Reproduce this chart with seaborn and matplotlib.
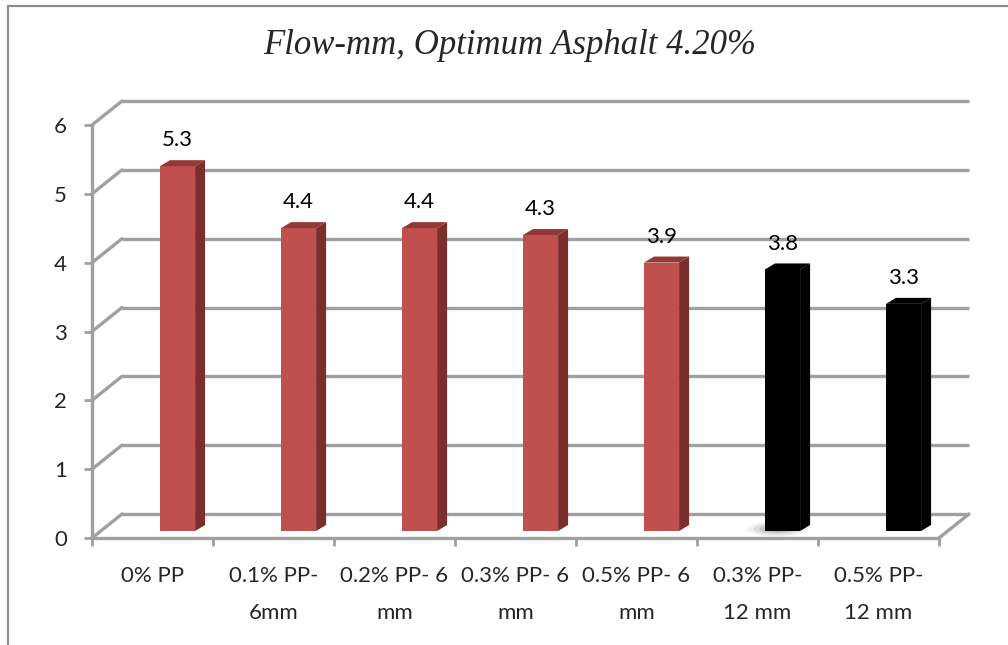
import matplotlib
matplotlib.use("Agg")
import matplotlib.pyplot as plt
import seaborn as sns
import numpy as np
from matplotlib.patches import Polygon, Ellipse
from matplotlib.lines import Line2D

# ---- data ----
categories = ["0% PP", "0.1% PP-\n6mm", "0.2% PP- 6\nmm", "0.3% PP- 6\nmm",
              "0.5% PP- 6\nmm", "0.3% PP-\n12 mm", "0.5% PP-\n12 mm"]
flow_mm = [5.3, 4.4, 4.4, 4.3, 3.9, 3.8, 3.3]
face_colors = ["#C0504D"] * 5 + ["#000000"] * 2
side_colors = ["#7B2F2D"] * 5 + ["#000000"] * 2
top_colors = ["#943835"] * 5 + ["#000000"] * 2
y_ticks = [0, 1, 2, 3, 4, 5, 6]

sns.set_style("white")
plt.rcParams["font.family"] = ["Lato", "DejaVu Sans"]

W, H = 1008, 645
fig = plt.figure(figsize=(W / 100, H / 100), dpi=100)
# front plane of the pseudo-3D box
ax = fig.add_axes([92 / W, (H - 538) / H, 847 / W, 413 / H])

sns.barplot(x=categories, y=flow_mm, hue=categories, palette=face_colors,
            legend=False, width=0.29, saturation=1, ax=ax, zorder=3)

shift = 0.207                      # bars sit toward the back of each slot
x0, x1 = -0.5 - shift, len(categories) - 0.5 - shift
ax.set_xlim(x0, x1)
ax.set_ylim(0, 6)

# depth of the box and of each bar, in data units
px_x = (x1 - x0) / 847
px_y = 6 / 413
ddx, ddy = 30 * px_x, 24 * px_y     # wall depth
bdx, bdy = 10 * px_x, 6 * px_y      # bar depth
base = 7 * px_y                     # bars stand mid-floor

grid_c = "#A0A0A0"
# back wall grid lines and left wall diagonals
for t in y_ticks:
    ax.plot([x0 + ddx, x1 + ddx], [t + ddy, t + ddy], color=grid_c, lw=2.4,
            clip_on=False, zorder=1, solid_capstyle="butt")
    ax.plot([x0, x0 + ddx], [t, t + ddy], color=grid_c, lw=2.4,
            clip_on=False, zorder=1)
# right edge of the floor
ax.plot([x1, x1 + ddx], [0, ddy], color=grid_c, lw=2.4, clip_on=False, zorder=1)

# soft shadow under the first black bar
bars = sorted(ax.patches, key=lambda p: p.get_x())
sh = bars[5]
for w, h, a in [(0.50, 0.22, 0.08), (0.40, 0.17, 0.12),
                (0.30, 0.12, 0.18), (0.20, 0.08, 0.25)]:
    ax.add_patch(Ellipse((sh.get_x() + sh.get_width() * 0.35, base + 0.03),
                         width=w, height=h, facecolor="#555555", alpha=a,
                         edgecolor="none", zorder=2, clip_on=False))

# bars: front faces from seaborn, plus side and top faces
for i, p in enumerate(bars):
    p.set_y(p.get_y() + base)
    p.set_edgecolor("none")
    bx, by, bw, bh = p.get_x(), p.get_y(), p.get_width(), p.get_height()
    side = Polygon([(bx + bw, by), (bx + bw, by + bh),
                    (bx + bw + bdx, by + bh + bdy), (bx + bw + bdx, by + bdy)],
                   closed=True, facecolor=side_colors[i], edgecolor="none",
                   zorder=3, clip_on=False)
    top = Polygon([(bx, by + bh), (bx + bw, by + bh),
                   (bx + bw + bdx, by + bh + bdy), (bx + bdx, by + bh + bdy)],
                  closed=True, facecolor=top_colors[i], edgecolor="none",
                  zorder=3, clip_on=False)
    ax.add_patch(side)
    ax.add_patch(top)
    ax.annotate(f"{flow_mm[i]:.1f}", xy=(bx + bw / 2, by + bh + bdy),
                xytext=(0, 7), textcoords="offset points", ha="center",
                va="bottom", fontsize=16, color="#000000",
                annotation_clip=False, zorder=5)

# axes: front spines and ticks
for s in ["top", "right"]:
    ax.spines[s].set_visible(False)
for s in ["left", "bottom"]:
    ax.spines[s].set_color(grid_c)
    ax.spines[s].set_linewidth(2.4)
    ax.spines[s].set_zorder(2)

ax.set_yticks(y_ticks)
ax.set_yticklabels([str(t) for t in y_ticks], fontsize=16)
ax.set_xticks(np.arange(len(categories) + 1) - 0.5 - shift)
ax.set_xticklabels([])
ax.set_xticks(np.arange(len(categories)) - shift, minor=True)
ax.set_xticklabels(categories, minor=True, fontsize=16, linespacing=2.05)
ax.tick_params(axis="y", which="major", length=6, width=2, color=grid_c,
               direction="out", pad=12, left=True)
ax.tick_params(axis="x", which="major", length=6, width=2, color=grid_c,
               direction="out", bottom=True)
ax.tick_params(axis="x", which="minor", length=0, pad=20)
ax.grid(False)
ax.set_xlabel("")
ax.set_ylabel("")
ax.patch.set_alpha(0)

fig.text(510 / W, 1 - 46 / H, "Flow-mm, Optimum Asphalt 4.20%",
         ha="center", va="center", fontsize=25, style="italic",
         family="Liberation Serif")

# chart frame
fig.add_artist(Line2D([8 / W, 8 / W], [0, 1 - 6 / H], color="#8C8C8C", lw=1.6,
                      transform=fig.transFigure))
fig.add_artist(Line2D([8 / W, 1], [1 - 6 / H, 1 - 6 / H], color="#8C8C8C",
                      lw=1.6, transform=fig.transFigure))

fig.savefig("out.png", dpi=100)
